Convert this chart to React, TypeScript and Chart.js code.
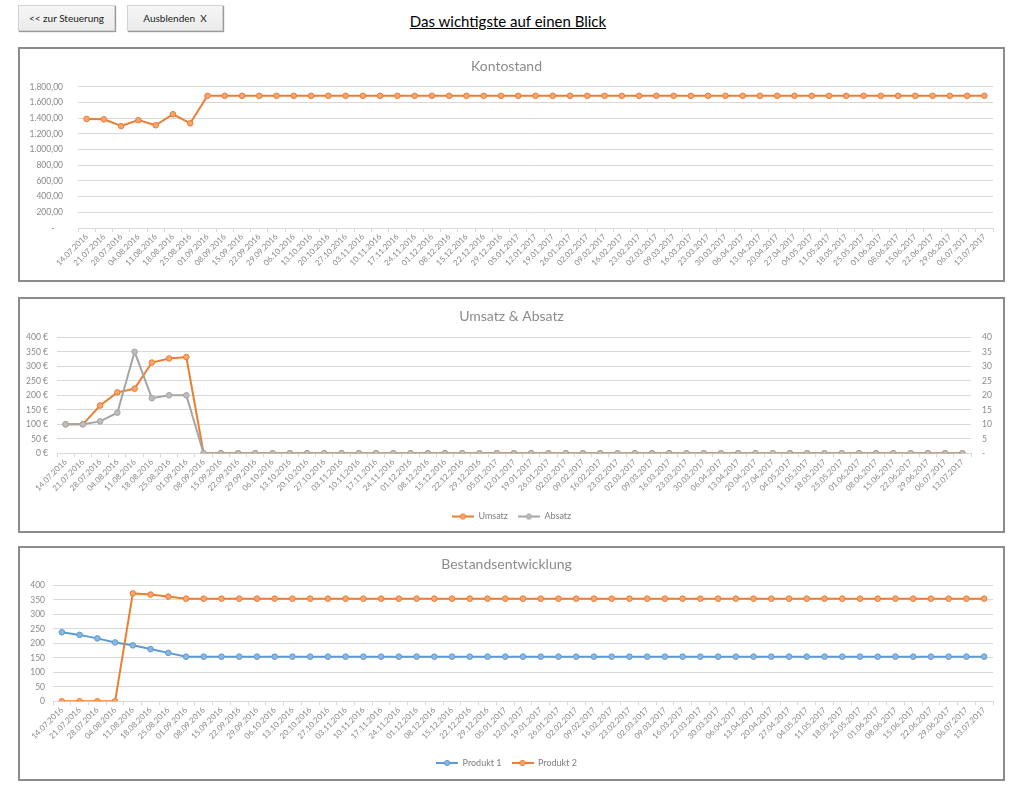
import React, { useEffect, useRef } from 'react';
import { Chart, registerables } from 'chart.js';

Chart.register(...registerables);

const dateLabels = [
  '14.07.2016', '21.07.2016', '28.07.2016', '04.08.2016', '11.08.2016', '18.08.2016', '25.08.2016',
  '01.09.2016', '08.09.2016', '15.09.2016', '22.09.2016', '29.09.2016', '06.10.2016', '13.10.2016',
  '20.10.2016', '27.10.2016', '03.11.2016', '10.11.2016', '17.11.2016', '24.11.2016', '01.12.2016',
  '08.12.2016', '15.12.2016', '22.12.2016', '29.12.2016', '05.01.2017', '12.01.2017', '19.01.2017',
  '26.01.2017', '02.02.2017', '09.02.2017', '16.02.2017', '23.02.2017', '02.03.2017', '09.03.2017',
  '16.03.2017', '23.03.2017', '30.03.2017', '06.04.2017', '13.04.2017', '20.04.2017', '27.04.2017',
  '04.05.2017', '11.05.2017', '18.05.2017', '25.05.2017', '01.06.2017', '08.06.2017', '15.06.2017',
  '22.06.2017', '29.06.2017', '06.07.2017', '13.07.2017',
];

const kontostand = [
  1390, 1385, 1300, 1375, 1310, 1450, 1335,
  1685, 1685, 1685, 1685, 1685, 1685, 1685,
  1685, 1685, 1685, 1685, 1685, 1685, 1685,
  1685, 1685, 1685, 1685, 1685, 1685, 1685,
  1685, 1685, 1685, 1685, 1685, 1685, 1685,
  1685, 1685, 1685, 1685, 1685, 1685, 1685,
  1685, 1685, 1685, 1685, 1685, 1685, 1685,
  1685, 1685, 1685, 1685,
];
const kontoTickLabels = ['-    ', '200,00', '400,00', '600,00', '800,00', '1.000,00', '1.200,00', '1.400,00', '1.600,00', '1.800,00'];

const umsatz = [
  100, 100, 165, 210, 223, 313, 327,
  332, 0, 0, 0, 0, 0, 0,
  0, 0, 0, 0, 0, 0, 0,
  0, 0, 0, 0, 0, 0, 0,
  0, 0, 0, 0, 0, 0, 0,
  0, 0, 0, 0, 0, 0, 0,
  0, 0, 0, 0, 0, 0, 0,
  0, 0, 0, 0,
];
const absatz = [
  10, 10, 11, 14, 35, 19, 20,
  20, 0, 0, 0, 0, 0, 0,
  0, 0, 0, 0, 0, 0, 0,
  0, 0, 0, 0, 0, 0, 0,
  0, 0, 0, 0, 0, 0, 0,
  0, 0, 0, 0, 0, 0, 0,
  0, 0, 0, 0, 0, 0, 0,
  0, 0, 0, 0,
];
const umsatzTickLabels = ['0 €', '50 €', '100 €', '150 €', '200 €', '250 €', '300 €', '350 €', '400 €'];
const absatzTickLabels = ['-', '5', '10', '15', '20', '25', '30', '35', '40'];

const produkt1 = [
  238, 229, 217, 203, 193, 180, 167,
  154, 154, 154, 154, 154, 154, 154,
  154, 154, 154, 154, 154, 154, 154,
  154, 154, 154, 154, 154, 154, 154,
  154, 154, 154, 154, 154, 154, 154,
  154, 154, 154, 154, 154, 154, 154,
  154, 154, 154, 154, 154, 154, 154,
  154, 154, 154, 154,
];
const produkt2 = [
  0, 0, 0, 0, 372, 368, 361,
  354, 354, 354, 354, 354, 354, 354,
  354, 354, 354, 354, 354, 354, 354,
  354, 354, 354, 354, 354, 354, 354,
  354, 354, 354, 354, 354, 354, 354,
  354, 354, 354, 354, 354, 354, 354,
  354, 354, 354, 354, 354, 354, 354,
  354, 354, 354, 354,
];
const bestandTickLabels = ['0', '50', '100', '150', '200', '250', '300', '350', '400'];

const FONT = 'Lato, "Open Sans", sans-serif';
const TICK_COLOR = '#8a8a8a';
const TITLE_COLOR = '#8c8c8c';
const GRID = '#d9d9d9';
const ORANGE = '#ED7D31';
const ORANGE_FILL = '#F3A673';
const GRAY = '#A5A5A5';
const GRAY_FILL = '#BDBDBD';
const BLUE = '#5B9BD5';
const BLUE_FILL = '#8DB7E0';

function legendIcon(line: string, fill: string): HTMLCanvasElement {
  const c = document.createElement('canvas');
  c.width = 22;
  c.height = 8;
  const ctx = c.getContext('2d')!;
  ctx.strokeStyle = line;
  ctx.lineWidth = 2;
  ctx.beginPath();
  ctx.moveTo(0, 4);
  ctx.lineTo(22, 4);
  ctx.stroke();
  ctx.beginPath();
  ctx.arc(11, 4, 2.6, 0, Math.PI * 2);
  ctx.fillStyle = fill;
  ctx.fill();
  ctx.lineWidth = 1;
  ctx.stroke();
  return c;
}

function lineDataset(label: string, data: number[], color: string, fill: string, extra: any = {}) {
  return {
    label,
    data,
    borderColor: color,
    backgroundColor: fill,
    pointBackgroundColor: fill,
    pointBorderColor: color,
    pointBorderWidth: 1,
    pointRadius: 2.8,
    borderWidth: 2,
    tension: 0,
    ...extra,
  };
}

function xAxis(height: number) {
  return {
    type: 'category',
    offset: true,
    grid: { display: true, drawOnChartArea: false, drawTicks: true, tickLength: 4, color: GRID, offset: true },
    border: { display: true, color: GRID },
    ticks: {
      autoSkip: false,
      minRotation: 45,
      maxRotation: 45,
      padding: 0,
      color: TICK_COLOR,
      font: { family: FONT, size: 8 },
    },
    afterFit: (s: any) => { s.height = height; },
  };
}

function yAxis(labels: string[], max: number, step: number, width: number, padding: number, position = 'left', grid = true) {
  return {
    position,
    min: 0,
    max,
    ticks: {
      stepSize: step,
      padding,
      color: TICK_COLOR,
      font: { family: FONT, size: 8.5 },
      callback: (_v: any, i: number) => labels[i],
    },
    grid: { display: grid, color: GRID, drawTicks: false },
    border: { display: false },
    afterFit: (s: any) => { s.width = width; },
  };
}

function titleOpts(text: string, top: number, bottom: number) {
  return {
    display: true,
    text,
    color: TITLE_COLOR,
    font: { family: FONT, size: 14, weight: 'normal' },
    padding: { top, bottom },
  };
}

function legendOpts(icons: HTMLCanvasElement[]) {
  return {
    display: true,
    position: 'bottom',
    labels: {
      usePointStyle: true,
      pointStyleWidth: 22,
      padding: 10,
      color: '#7f7f7f',
      font: { family: FONT, size: 9 },
      sort: (a: any, b: any) => a.datasetIndex - b.datasetIndex,
      generateLabels: (chart: any) => {
        const items = (Chart.defaults.plugins.legend.labels as any).generateLabels(chart);
        return items.map((it: any) => ({ ...it, pointStyle: icons[it.datasetIndex] }));
      },
    },
  };
}

function kontoConfig(): any {
  return {
    type: 'line',
    data: {
      labels: dateLabels,
      datasets: [lineDataset('Kontostand', kontostand, ORANGE, ORANGE_FILL)],
    },
    options: {
      animation: false,
      responsive: false,
      events: [],
      layout: { padding: { left: 0, right: 10, top: 0, bottom: 0 } },
      plugins: {
        title: titleOpts('Kontostand', 9, 12),
        legend: { display: false },
        tooltip: { enabled: false },
      },
      scales: {
        x: xAxis(52),
        y: yAxis(kontoTickLabels, 1800, 200, 58, 15),
      },
    },
  };
}

function umsatzConfig(): any {
  const icons = [legendIcon(ORANGE, ORANGE_FILL), legendIcon(GRAY, GRAY_FILL)];
  return {
    type: 'line',
    data: {
      labels: dateLabels,
      datasets: [
        lineDataset('Umsatz', umsatz, ORANGE, ORANGE_FILL, { yAxisID: 'y', order: 1 }),
        lineDataset('Absatz', absatz, GRAY, GRAY_FILL, { yAxisID: 'y1', order: 0 }),
      ],
    },
    options: {
      animation: false,
      responsive: false,
      events: [],
      layout: { padding: { left: 0, right: 0, top: 0, bottom: 0 } },
      plugins: {
        title: titleOpts('Umsatz & Absatz', 9, 12.5),
        legend: legendOpts(icons),
        tooltip: { enabled: false },
      },
      scales: {
        x: xAxis(48.7),
        y: yAxis(umsatzTickLabels, 400, 50, 37, 9, 'left'),
        y1: yAxis(absatzTickLabels, 40, 5, 32, 11, 'right', false),
      },
    },
  };
}

function bestandConfig(): any {
  const icons = [legendIcon(BLUE, BLUE_FILL), legendIcon(ORANGE, ORANGE_FILL)];
  return {
    type: 'line',
    data: {
      labels: dateLabels,
      datasets: [
        lineDataset('Produkt 1', produkt1, BLUE, BLUE_FILL, { order: 1 }),
        lineDataset('Produkt 2', produkt2, ORANGE, ORANGE_FILL, { order: 0 }),
      ],
    },
    options: {
      animation: false,
      responsive: false,
      events: [],
      layout: { padding: { left: 0, right: 10, top: 0, bottom: 1.5 } },
      plugins: {
        title: titleOpts('Bestandsentwicklung', 8, 12.5),
        legend: legendOpts(icons),
        tooltip: { enabled: false },
      },
      scales: {
        x: xAxis(47.2),
        y: yAxis(bestandTickLabels, 400, 50, 33, 8),
      },
    },
  };
}

function ChartPanel({ top, height, makeConfig }: { top: number; height: number; makeConfig: () => any }) {
  const ref = useRef<HTMLCanvasElement>(null);
  useEffect(() => {
    const chart = new Chart(ref.current!, makeConfig());
    return () => chart.destroy();
  }, []);
  return (
    <div
      style={{
        position: 'absolute',
        left: 18,
        top,
        width: 987,
        height,
        border: '2px solid #8c8c8c',
        boxSizing: 'border-box',
        background: '#fff',
      }}
    >
      <canvas ref={ref} width={983} height={height - 4} style={{ display: 'block' }} />
    </div>
  );
}

const buttonStyle: React.CSSProperties = {
  position: 'absolute',
  top: 5,
  height: 26,
  boxSizing: 'border-box',
  background: 'linear-gradient(#f6f6f6, #ebebeb)',
  border: '1px solid #d2d2d2',
  boxShadow: '1px 1px 1px #9a9a9a',
  fontFamily: FONT,
  fontSize: 10,
  color: '#222',
  display: 'flex',
  alignItems: 'center',
  justifyContent: 'center',
  whiteSpace: 'pre',
};

export default function App() {
  return (
    <div style={{ position: 'absolute', left: 0, top: 0, width: 1024, height: 797, background: '#fff' }}>
      <div style={{ ...buttonStyle, left: 18, width: 97 }}>{'<< zur Steuerung'}</div>
      <div style={{ ...buttonStyle, left: 127, width: 96 }}>{'Ausblenden  X'}</div>
      <div
        style={{
          position: 'absolute',
          left: 0,
          top: 12,
          width: 1016,
          textAlign: 'center',
          fontFamily: FONT,
          fontSize: 15,
          color: '#000',
        }}
      >
        <span style={{ textDecoration: 'underline' }}>Das wichtigste auf einen Blick</span>
      </div>
      <ChartPanel top={47} height={235} makeConfig={kontoConfig} />
      <ChartPanel top={297} height={236} makeConfig={umsatzConfig} />
      <ChartPanel top={546} height={235} makeConfig={bestandConfig} />
    </div>
  );
}
